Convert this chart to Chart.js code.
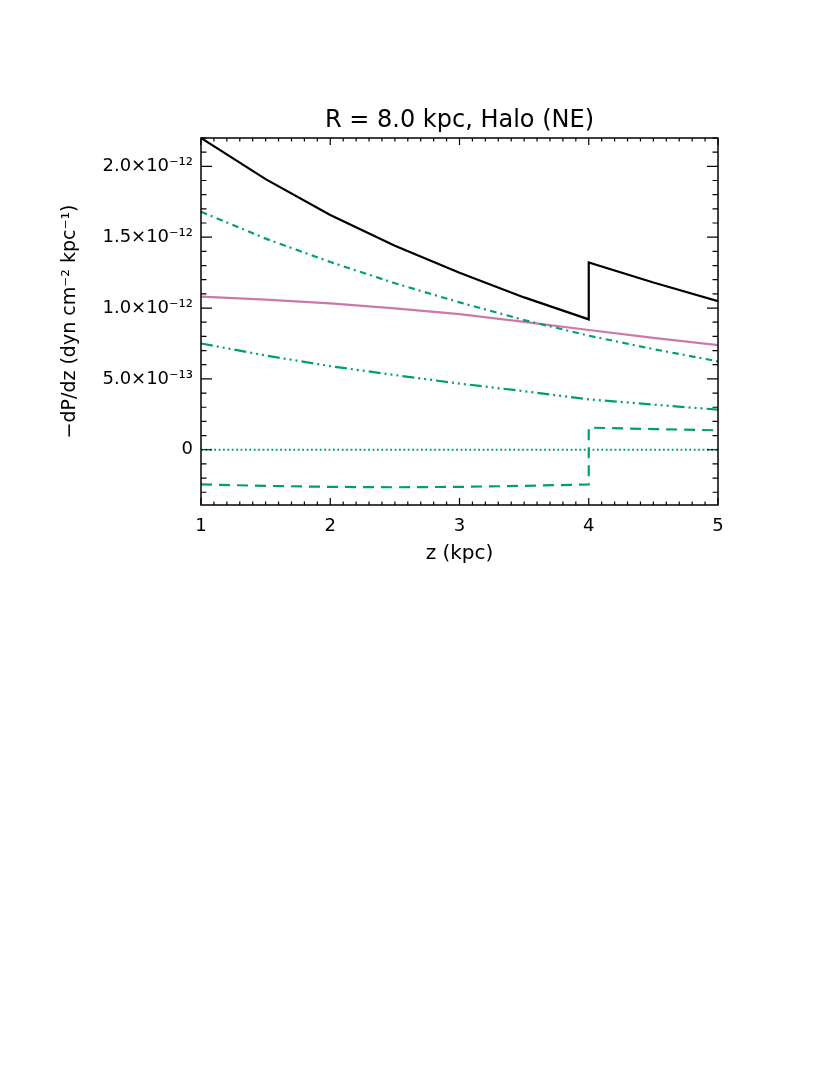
<!DOCTYPE html>
<html>
<head>
<meta charset="utf-8">
<script src="https://cdn.jsdelivr.net/npm/chart.js@4/dist/chart.umd.min.js"></script>
<style>
  body { margin: 0; background: #fff; }
  #wrap { width: 830px; height: 1075px; }
</style>
</head>
<body>
<div id="wrap"><canvas id="myChart" width="830" height="1075"></canvas></div>
<script>
// values in units of 1e-12 dyn cm^-2 kpc^-1
var zSmooth = [1, 1.5, 2, 2.5, 3, 3.5, 4, 4.5, 5];
var zJump = [1, 1.5, 2, 2.5, 3, 3.5, 4, 4, 4.5, 5];

var total = [2.20, 1.91, 1.657, 1.44, 1.249, 1.075, 0.92, 1.322, 1.18, 1.049];
var dashDot = [1.68, 1.49, 1.325, 1.175, 1.04, 0.915, 0.805, 0.71, 0.624];
var gravity = [1.08, 1.06, 1.033, 0.997, 0.957, 0.902, 0.845, 0.79, 0.738];
var dashDotDot = [0.75, 0.665, 0.59, 0.527, 0.467, 0.413, 0.356, 0.318, 0.283];
var dashed = [-0.245, -0.255, -0.262, -0.265, -0.262, -0.255, -0.245, 0.156, 0.146, 0.137];
var zDotted = [1, 5];
var dotted = [0, 0];

var xTicks = [1, 2, 3, 4, 5];
var yTicks = [0, 0.5, 1.0, 1.5, 2.0];
var yTickLabels = ['0', '5.0\u00d710\u207b\u00b9\u00b3', '1.0\u00d710\u207b\u00b9\u00b2', '1.5\u00d710\u207b\u00b9\u00b2', '2.0\u00d710\u207b\u00b9\u00b2'];

var green = '#009E73';
var pink = '#CC79A7';

function pts(xs, ys) {
    return xs.map(function(x, i) { return {x: x, y: ys[i]}; });
}

function ds(xs, ys, color, dash) {
    return {
        data: pts(xs, ys),
        borderColor: color,
        borderWidth: 2.2,
        borderDash: dash,
        pointRadius: 0,
        tension: 0,
        fill: false
    };
}

// inward ticks on all four sides plus frame and title, like the IDL plot
var idlFrame = {
    id: 'idlFrame',
    afterDraw: function(chart) {
        var ctx = chart.ctx;
        var a = chart.chartArea;
        var xs = chart.scales.x;
        var ys = chart.scales.y;
        ctx.save();
        ctx.strokeStyle = '#000';
        ctx.lineWidth = 1.2;
        ctx.beginPath();
        for (var i = 10; i <= 50; i++) {
            var px = xs.getPixelForValue(i / 10);
            var len = (i % 10 === 0) ? 7 : 3.5;
            ctx.moveTo(px, a.bottom); ctx.lineTo(px, a.bottom - len);
            ctx.moveTo(px, a.top); ctx.lineTo(px, a.top + len);
        }
        for (var j = -3; j <= 22; j++) {
            var py = ys.getPixelForValue(j / 10);
            var ln = (j % 5 === 0) ? 11 : 5.5;
            ctx.moveTo(a.left, py); ctx.lineTo(a.left + ln, py);
            ctx.moveTo(a.right, py); ctx.lineTo(a.right - ln, py);
        }
        ctx.stroke();
        ctx.lineWidth = 1.5;
        ctx.strokeRect(a.left, a.top, a.right - a.left, a.bottom - a.top);
        ctx.fillStyle = '#000';
        ctx.font = '24px "DejaVu Sans"';
        ctx.textAlign = 'center';
        ctx.textBaseline = 'alphabetic';
        ctx.fillText('R = 8.0 kpc, Halo (NE)', (a.left + a.right) / 2, 127);
        ctx.restore();
    }
};

var ctx = document.getElementById('myChart').getContext('2d');
var myChart = new Chart(ctx, {
    type: 'line',
    data: {
        datasets: [
            ds(zDotted, dotted, green, [1.8, 2.6]),
            ds(zJump, dashed, green, [11, 7]),
            ds(zSmooth, dashDotDot, green, [12, 4, 2, 4, 2, 4, 2, 4]),
            ds(zSmooth, dashDot, green, [6.5, 4, 2, 4.5]),
            ds(zSmooth, gravity, pink, []),
            ds(zJump, total, '#000', [])
        ]
    },
    options: {
        responsive: false,
        animation: false,
        layout: { padding: { left: 0, top: 138, right: 112, bottom: 500 } },
        plugins: { legend: { display: false }, tooltip: { enabled: false } },
        scales: {
            x: {
                type: 'linear',
                min: 1,
                max: 5,
                afterFit: function(scale) { scale.height = 70; },
                afterBuildTicks: function(scale) { scale.ticks = xTicks.map(function(v) { return {value: v}; }); },
                grid: { display: false, drawTicks: false },
                border: { display: false },
                ticks: { padding: 11, color: '#000', font: { family: 'DejaVu Sans', size: 18 } },
                title: { display: true, text: 'z (kpc)', color: '#000', font: { family: 'DejaVu Sans', size: 20 }, padding: { top: 0, bottom: 9 } }
            },
            y: {
                min: -0.39,
                max: 2.2,
                afterFit: function(scale) { scale.width = 201; },
                afterBuildTicks: function(scale) { scale.ticks = yTicks.map(function(v) { return {value: v}; }); },
                grid: { display: false, drawTicks: false },
                border: { display: false },
                ticks: {
                    padding: 8,
                    color: '#000',
                    font: { family: 'DejaVu Sans', size: 18 },
                    callback: function(v) {
                        var k = yTicks.indexOf(v);
                        return k >= 0 ? yTickLabels[k] : '';
                    }
                },
                title: { display: true, text: '\u2212dP/dz (dyn cm\u207b\u00b2 kpc\u207b\u00b9)', color: '#000', font: { family: 'DejaVu Sans', size: 19 }, padding: { top: 59, bottom: 0 } }
            }
        }
    },
    plugins: [idlFrame]
});
</script>
</body>
</html>
